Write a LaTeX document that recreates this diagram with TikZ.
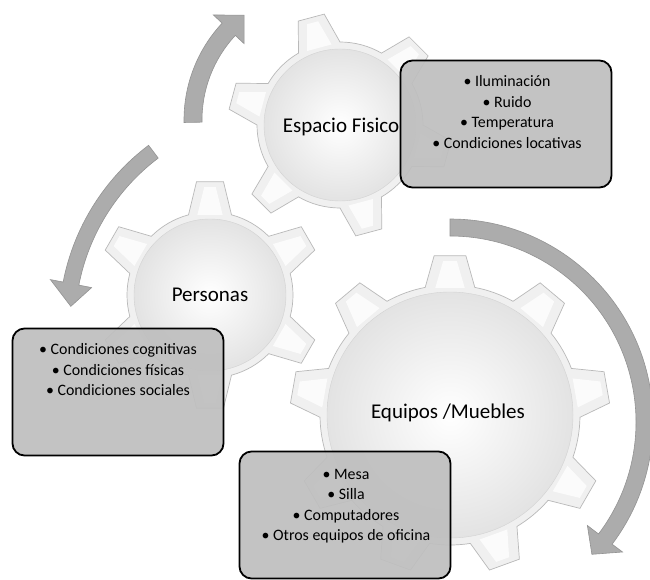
\documentclass[tikz,border=0pt]{standalone}
\usepackage{fontspec}
\setmainfont{Carlito}
\newcommand\mygear[7]{%
\begin{scope}[shift={#1}]
\pgfmathsetmacro\gst{360/#2}
\path[gearrim] ({#3-#6}:#4) \foreach \k in {1,...,#2} {
  -- ({#3+(\k-1)*\gst-#6}:#4) -- ({#3+(\k-1)*\gst-#7}:#5) -- ({#3+(\k-1)*\gst+#7}:#5) -- ({#3+(\k-1)*\gst+#6}:#4)
  arc[start angle={#3+(\k-1)*\gst+#6}, end angle={#3+\k*\gst-#6}, radius=#4]
} -- cycle;
\foreach \k in {1,...,#2} {
  \fill[toothface] ({#3+(\k-1)*\gst-0.6*#6}:{#4-2}) -- ({#3+(\k-1)*\gst-0.45*#7}:{#5-6}) -- ({#3+(\k-1)*\gst+0.45*#7}:{#5-6}) -- ({#3+(\k-1)*\gst+0.6*#6}:{#4-2}) -- cycle;
}
\shade[geardisc] (0,0) circle[radius=#4-7];
\end{scope}}
\newcommand\myarrow[9]{%
\begin{scope}[shift={#1}]
\path[arrowshape] (#2:#5) arc[start angle=#2, end angle=#3, radius=#5] -- (#3:#7) -- (#8:#9) -- (#3:#6) -- (#3:#4) arc[start angle=#3, end angle=#2, radius=#4] -- cycle;
\end{scope}}
\begin{document}
\begin{tikzpicture}[x=1pt,y=1pt,
  arrowshape/.style={fill=gray!65, draw=gray!85, line width=0.6pt},
  gearrim/.style={fill=gray!12, draw=gray!55, line width=0.7pt},
  geardisc/.style={inner color=white, outer color=gray!22, draw=gray!35, line width=0.4pt},
  toothface/.style={fill=white, fill opacity=0.75},
  infobox/.style={draw=black, line width=1.8pt, rounded corners=12pt, fill=gray!50, fill opacity=0.93, inner sep=0pt, minimum width=211pt, minimum height=127pt},
  boxtext/.style={align=center, font=\fontsize{15.9}{20.5}\selectfont, inner sep=0pt},
  gearlabel/.style={font=\fontsize{21}{25}\selectfont, inner sep=0pt}]
\fill[white] (0,0) rectangle (650,-580);
\useasboundingbox (0,0) rectangle (650,-580);
% arrows
\myarrow{(326,-120)}{181}{137}{124}{142}{112}{154}{128}{133}
\myarrow{(284,-325)}{127}{169}{209}{225}{196}{238}{175}{214}
\myarrow{(450,-422)}{90}{-37}{186}{203}{172}{216}{-43}{194}
% gears
\mygear{(450,-415)}{9}{10}{130}{160}{11}{5.7}
\mygear{(210,-295)}{6}{30}{83}{114}{15}{6.8}
\mygear{(340,-125)}{6}{45}{83}{112}{15}{6.9}
% gear labels
\node[gearlabel] (lE) at (341,-127) {Espacio Fisico};
\node[gearlabel] (lP) at (210,-295) {Personas};
\node[gearlabel] (lQ) at (448,-413) {Equipos /Muebles};
% boxes
\node[infobox] (bE) at (506,-124) {};
\node[infobox] (bP) at (118,-392) {};
\node[infobox] (bQ) at (345,-515) {};
\node[boxtext] (tE) at (507,-112) {• Iluminación\\• Ruido\\• Temperatura\\• Condiciones locativas};
\node[boxtext] (tP) at (118,-370) {• Condiciones cognitivas\\• Condiciones físicas\\• Condiciones sociales};
\node[boxtext] (tQ) at (346,-506) {• Mesa\\• Silla\\• Computadores\\• Otros equipos de oficina};
\end{tikzpicture}
\end{document}
